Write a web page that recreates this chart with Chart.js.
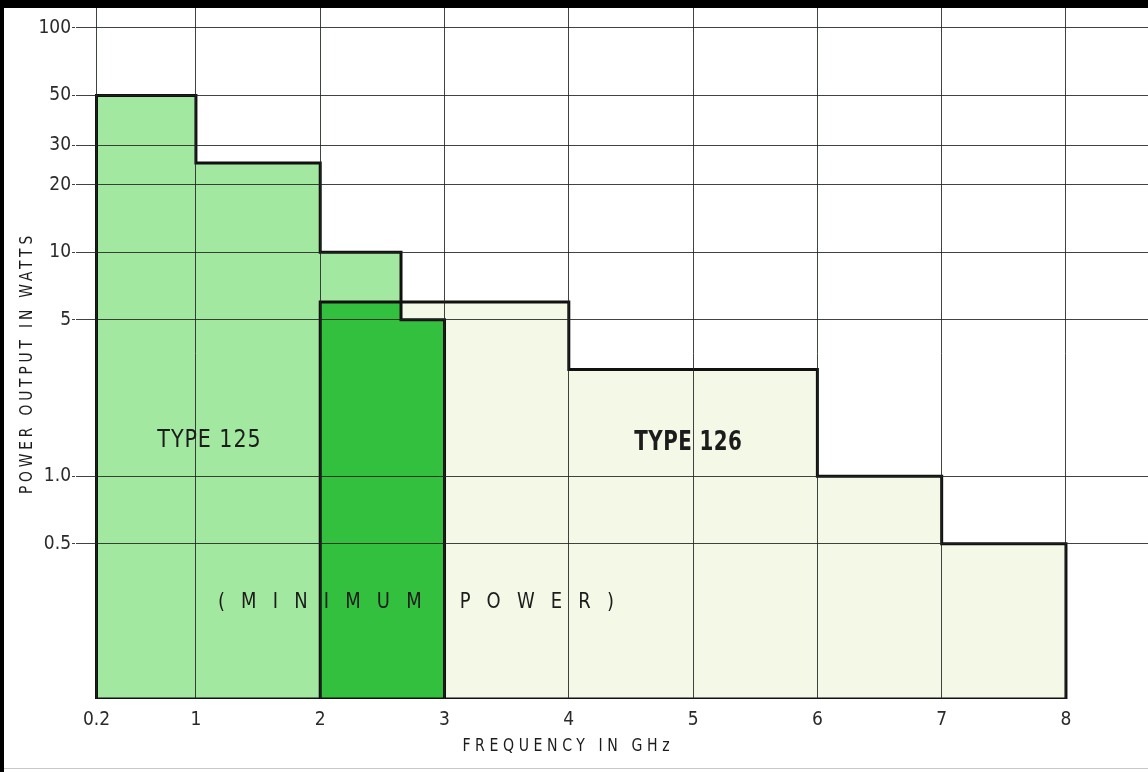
<!DOCTYPE html>
<html>
<head>
<meta charset="utf-8">
<script src="https://cdn.jsdelivr.net/npm/chart.js@4/dist/chart.umd.min.js"></script>
<style>
  html, body { margin: 0; padding: 0; background: #fff; }
  #wrap { width: 1148px; height: 772px; position: relative; }
</style>
</head>
<body>
<div id="wrap"><canvas id="c" width="1148" height="772"></canvas></div>
<script>
// ---------------- data ----------------
const xTicks = [0.2, 1, 2, 3, 4, 5, 6, 7, 8];
const xTickLabels = ['0.2', '1', '2', '3', '4', '5', '6', '7', '8'];
const yTicks = [100, 50, 30, 20, 10, 5, 1, 0.5];
const yTickLabels = ['100', '50', '30', '20', '10', '5', '1.0', '0.5'];

// band edges (GHz) and minimum power (W) in each band
const type125Edges = [0.2, 1, 2, 2.65, 3];
const type125Power = [50, 25, 10, 5];
const type126Edges = [2, 4, 6, 7, 8];
const type126Power = [6, 3, 1.0, 0.5];
const overlapEdges = [2, 2.65, 3];
const overlapPower = [6, 5];

const Y_MIN = 0.1016, Y_MAX = 122.8;
const X_MIN = 0.027, X_MAX = 8.66;

const FONT = "'Liberation Sans Narrow', 'DejaVu Sans Condensed', 'Arial Narrow', sans-serif";
const INK = '#1c1c1c';

function stepPoints(edges, power) {
  const pts = [{x: edges[0], y: Y_MIN}];
  for (let i = 0; i < power.length; i++) pts.push({x: edges[i], y: power[i]});
  const last = edges[edges.length - 1];
  pts.push({x: last, y: power[power.length - 1]});
  pts.push({x: last, y: Y_MIN});
  return pts;
}

function drawText(ctx, text, x, y, font, spacing, sx) {
  ctx.save();
  ctx.translate(x, y);
  ctx.scale(sx, 1);
  ctx.font = font;
  ctx.letterSpacing = spacing + 'px';
  ctx.textAlign = 'center';
  ctx.textBaseline = 'middle';
  ctx.fillText(text, spacing / 2, 0);
  ctx.restore();
}

const frame = {
  id: 'frame',
  beforeDraw(chart) {
    const ctx = chart.ctx;
    ctx.save();
    ctx.fillStyle = '#ffffff';
    ctx.fillRect(0, 0, chart.width, chart.height);
    ctx.restore();
  },
  afterDraw(chart) {
    const ctx = chart.ctx;
    const xs = chart.scales.x, ys = chart.scales.y;
    ctx.save();
    // frame
    ctx.fillStyle = '#000';
    ctx.fillRect(0, 0, chart.width, 8);
    ctx.fillRect(0, 0, 4, chart.height);
    ctx.fillStyle = '#c8c8c8';
    ctx.fillRect(4, 768, chart.width, 1);

    ctx.fillStyle = INK;

    // axis titles
    drawText(ctx, 'FREQUENCY IN GHz', 566, 747, '17px ' + FONT, 5, 0.92);

    ctx.save();
    ctx.translate(28, 365);
    ctx.rotate(-Math.PI / 2);
    drawText(ctx, 'POWER OUTPUT IN WATTS', 0, 0, '17px ' + FONT, 4.3, 0.9);
    ctx.restore();

    // in-plot labels
    drawText(ctx, 'TYPE 125', xs.getPixelForValue(1.105), ys.getPixelForValue(1.44), '25px ' + FONT, 1, 0.92);
    drawText(ctx, 'TYPE 126', xs.getPixelForValue(4.96), ys.getPixelForValue(1.41), 'bold 26px ' + FONT, 0.5, 0.85);
    drawText(ctx, '(MINIMUM POWER)', xs.getPixelForValue(2.77), ys.getPixelForValue(0.275), '21px ' + FONT, 17, 0.95);
    ctx.restore();
  }
};

const gridColor = 'rgba(30,35,30,0.85)';

new Chart(document.getElementById('c'), {
  type: 'scatter',
  data: {
    datasets: [
      {
        label: 'Baseline',
        data: [{x: type125Edges[0], y: Y_MIN}, {x: type126Edges[type126Edges.length - 1], y: Y_MIN}],
        showLine: true,
        borderWidth: 3, borderColor: '#111', fill: false,
        pointRadius: 0, pointHoverRadius: 0
      },
      {
        label: 'Overlap',
        data: stepPoints(overlapEdges, overlapPower),
        showLine: true, stepped: 'before',
        borderWidth: 0, borderColor: 'rgba(0,0,0,0)',
        backgroundColor: '#33c03f', fill: 'start',
        pointRadius: 0, pointHoverRadius: 0
      },
      {
        label: 'Type 125',
        data: stepPoints(type125Edges, type125Power),
        showLine: true, stepped: 'before',
        borderWidth: 3, borderColor: '#111',
        borderJoinStyle: 'miter',
        backgroundColor: '#a3e8a0', fill: 'start',
        pointRadius: 0, pointHoverRadius: 0
      },
      {
        label: 'Type 126',
        data: stepPoints(type126Edges, type126Power),
        showLine: true, stepped: 'before',
        borderWidth: 3, borderColor: '#111',
        borderJoinStyle: 'miter',
        backgroundColor: '#f3f8e7', fill: 'start',
        pointRadius: 0, pointHoverRadius: 0
      }
    ]
  },
  options: {
    responsive: false,
    animation: false,
    events: [],
    layout: { padding: { top: 8, left: 0, right: 0, bottom: 0 } },
    plugins: {
      legend: { display: false },
      tooltip: { enabled: false },
      filler: { drawTime: 'beforeDatasetsDraw' }
    },
    scales: {
      x: {
        type: 'linear', min: X_MIN, max: X_MAX,
        afterBuildTicks: s => { s.ticks = xTicks.map(v => ({ value: v })); },
        afterFit: s => { s.height = 73; s.paddingLeft = 0; s.paddingRight = 0; },
        grid: { color: gridColor, lineWidth: 1, drawTicks: false, tickLength: 0, z: 1 },
        border: { display: true, color: '#9a9a90', width: 1 },
        ticks: {
          autoSkip: false, maxRotation: 0, padding: 10,
          color: '#2a2a2a', font: { family: FONT, size: 19 },
          callback: (v) => { const i = xTicks.indexOf(v); return i >= 0 ? xTickLabels[i] : ''; }
        },
        title: { display: false }
      },
      y: {
        type: 'logarithmic', min: Y_MIN, max: Y_MAX,
        afterBuildTicks: s => { s.ticks = yTicks.map(v => ({ value: v })); },
        afterFit: s => { s.width = 75; s.paddingTop = 0; s.paddingBottom = 0; },
        grid: { color: gridColor, lineWidth: 1, drawTicks: true, tickLength: 3, z: 1 },
        border: { display: true, color: '#9a9a90', width: 1 },
        ticks: {
          autoSkip: false, padding: 1,
          color: '#2a2a2a', font: { family: FONT, size: 19 },
          callback: (v) => { const i = yTicks.indexOf(v); return i >= 0 ? yTickLabels[i] : ''; }
        },
        title: { display: false }
      }
    }
  },
  plugins: [frame]
});
</script>
</body>
</html>
